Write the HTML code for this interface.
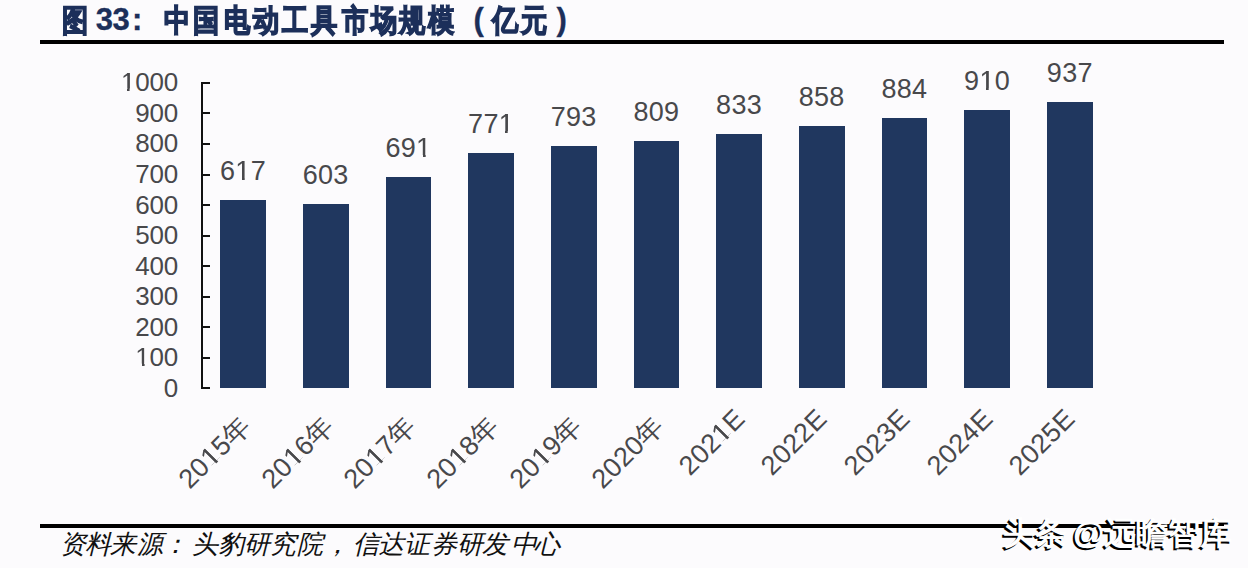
<!DOCTYPE html>
<html><head><meta charset="utf-8"><style>
html,body{margin:0;padding:0;}
body{width:1248px;height:568px;background:#fcfbfd;position:relative;overflow:hidden;font-family:"Liberation Sans",sans-serif;}
.tc{position:absolute;top:4.0px;font-size:26.0px;font-weight:900;color:#1c2f5a;-webkit-text-stroke:1.2px #1c2f5a;white-space:nowrap;line-height:32px;transform:scaleY(1.18);transform-origin:50% 50%;}
.tc.dg{font-size:31px;top:2px;line-height:36px;transform:none;-webkit-text-stroke:0.3px #1c2f5a;}
.rule{position:absolute;left:40px;width:1184px;height:4px;background:#000;}
.bar{position:absolute;width:45.7px;background:#20375f;}
.dl{position:absolute;width:100px;text-align:center;font-size:27.0px;letter-spacing:0.3px;line-height:30px;color:#48484b;}
.xl{position:absolute;width:200px;text-align:right;font-size:27.0px;letter-spacing:0.3px;line-height:30px;color:#48484b;transform-origin:100% 50%;transform:rotate(-45deg);white-space:nowrap;}
.o{font-style:normal;color:transparent;background-image:linear-gradient(#48484b,#48484b),linear-gradient(#48484b,#48484b);background-size:100% 0.83em,0.1em 100%;background-position:0 0,0.245em 0;background-repeat:no-repeat;-webkit-background-clip:text;background-clip:text;}
.axis{position:absolute;left:201px;top:82px;width:2px;height:307px;background:#111;}
.tick{position:absolute;left:201px;width:9px;height:2px;background:#111;}
.yl{position:absolute;left:78.0px;width:100px;text-align:right;font-size:26px;letter-spacing:-0.2px;line-height:30px;color:#48484b;}
.sc{position:absolute;top:530px;font-size:26px;font-style:italic;color:#111;white-space:nowrap;line-height:28px;}
.wm{position:absolute;left:1003px;top:513px;font-size:32px;font-weight:bold;word-spacing:-3px;color:#fff;white-space:nowrap;line-height:40px;text-shadow:-2px 2px 0 #000;}
</style></head><body>
<span class="tc" style="left:61.9px">图</span><span class="tc dg" style="left:95.8px">3</span><span class="tc dg" style="left:112.5px">3</span><span class="tc dg" style="left:132.0px">:</span><span class="tc" style="left:163.7px">中</span><span class="tc" style="left:193.2px">国</span><span class="tc" style="left:224.0px">电</span><span class="tc" style="left:253.0px">动</span><span class="tc" style="left:282.0px">工</span><span class="tc" style="left:310.6px">具</span><span class="tc" style="left:341.8px">市</span><span class="tc" style="left:370.7px">场</span><span class="tc" style="left:399.0px">规</span><span class="tc" style="left:428.0px">模</span><span class="tc dg" style="left:473.5px">(</span><span class="tc" style="left:492.0px">亿</span><span class="tc" style="left:521.0px">元</span><span class="tc dg" style="left:556.5px">)</span>
<div class="rule" style="top:40px"></div>
<div class="axis"></div>
<div class="tick" style="top:387.3px"></div><div class="tick" style="top:356.8px"></div><div class="tick" style="top:326.2px"></div><div class="tick" style="top:295.7px"></div><div class="tick" style="top:265.1px"></div><div class="tick" style="top:234.6px"></div><div class="tick" style="top:204.0px"></div><div class="tick" style="top:173.5px"></div><div class="tick" style="top:142.9px"></div><div class="tick" style="top:112.4px"></div><div class="tick" style="top:81.8px"></div>
<div class="yl" style="top:372.8px">0</div><div class="yl" style="top:342.2px"><i class="o">1</i>00</div><div class="yl" style="top:311.7px">200</div><div class="yl" style="top:281.2px">300</div><div class="yl" style="top:250.6px">400</div><div class="yl" style="top:220.1px">500</div><div class="yl" style="top:189.5px">600</div><div class="yl" style="top:159.0px">700</div><div class="yl" style="top:128.4px">800</div><div class="yl" style="top:97.9px">900</div><div class="yl" style="top:67.3px"><i class="o">1</i>000</div>
<div class="bar" style="left:220.2px;top:199.8px;height:188.5px"></div><div class="bar" style="left:302.9px;top:204.1px;height:184.2px"></div><div class="bar" style="left:385.5px;top:177.2px;height:211.1px"></div><div class="bar" style="left:468.2px;top:152.8px;height:235.5px"></div><div class="bar" style="left:550.9px;top:146.0px;height:242.3px"></div><div class="bar" style="left:633.5px;top:141.2px;height:247.1px"></div><div class="bar" style="left:716.2px;top:133.8px;height:254.5px"></div><div class="bar" style="left:798.9px;top:126.2px;height:262.1px"></div><div class="bar" style="left:881.6px;top:118.2px;height:270.1px"></div><div class="bar" style="left:964.2px;top:110.3px;height:278.0px"></div><div class="bar" style="left:1046.9px;top:102.0px;height:286.3px"></div>
<div class="dl" style="left:193.0px;top:155.5px">6<i class="o">1</i>7</div><div class="dl" style="left:275.7px;top:159.8px">603</div><div class="dl" style="left:358.4px;top:132.9px">69<i class="o">1</i></div><div class="dl" style="left:441.1px;top:108.5px">77<i class="o">1</i></div><div class="dl" style="left:523.7px;top:101.7px">793</div><div class="dl" style="left:606.4px;top:96.9px">809</div><div class="dl" style="left:689.1px;top:89.5px">833</div><div class="dl" style="left:771.7px;top:81.9px">858</div><div class="dl" style="left:854.4px;top:73.9px">884</div><div class="dl" style="left:937.1px;top:66.0px">9<i class="o">1</i>0</div><div class="dl" style="left:1019.8px;top:57.7px">937</div>
<div class="xl" style="left:46.0px;top:405.5px">20<i class="o">1</i>5年</div><div class="xl" style="left:128.7px;top:405.5px">20<i class="o">1</i>6年</div><div class="xl" style="left:211.4px;top:405.5px">20<i class="o">1</i>7年</div><div class="xl" style="left:294.1px;top:405.5px">20<i class="o">1</i>8年</div><div class="xl" style="left:376.7px;top:405.5px">20<i class="o">1</i>9年</div><div class="xl" style="left:459.4px;top:405.5px">2020年</div><div class="xl" style="left:539.6px;top:399.0px">202<i class="o">1</i>E</div><div class="xl" style="left:622.2px;top:399.0px">2022E</div><div class="xl" style="left:704.9px;top:399.0px">2023E</div><div class="xl" style="left:787.6px;top:399.0px">2024E</div><div class="xl" style="left:870.2px;top:399.0px">2025E</div>
<div class="rule" style="top:524px"></div>
<span class="sc" style="left:59.6px">资</span><span class="sc" style="left:85.0px">料</span><span class="sc" style="left:110.0px">来</span><span class="sc" style="left:136.6px">源</span><span class="sc" style="left:162.0px">：</span><span class="sc" style="left:192.0px">头</span><span class="sc" style="left:218.0px">豹</span><span class="sc" style="left:244.0px">研</span><span class="sc" style="left:270.0px">究</span><span class="sc" style="left:297.0px">院</span><span class="sc" style="left:324.0px">，</span><span class="sc" style="left:352.5px">信</span><span class="sc" style="left:377.7px">达</span><span class="sc" style="left:404.0px">证</span><span class="sc" style="left:430.6px">券</span><span class="sc" style="left:457.0px">研</span><span class="sc" style="left:482.0px">发</span><span class="sc" style="left:511.0px">中</span><span class="sc" style="left:534.0px">心</span>
<div class="wm">头条 @远瞻智库</div>
</body></html>
